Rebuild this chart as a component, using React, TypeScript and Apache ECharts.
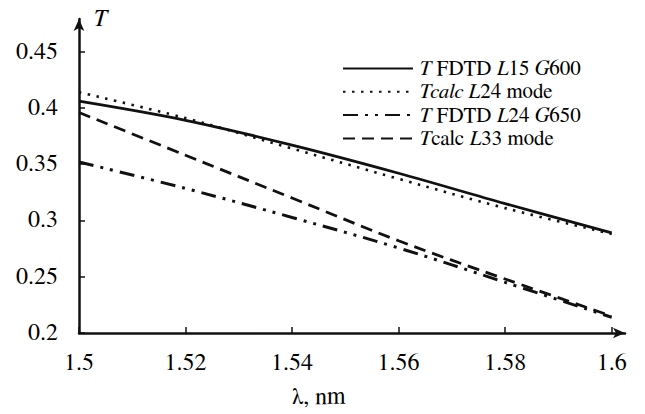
import React, { useEffect, useRef } from "react";
import * as echarts from "echarts";

// Wavelength samples (labelled in nm on the axis)
const wavelengths = [1.5, 1.52, 1.54, 1.56, 1.58, 1.6];

// Transmission curves
const fdtdL15G600 = [0.406, 0.389, 0.367, 0.342, 0.315, 0.289];
const calcL24 = [0.414, 0.391, 0.364, 0.337, 0.311, 0.288];
const fdtdL24G650 = [0.352, 0.3285, 0.3027, 0.2756, 0.245, 0.214];
const calcL33 = [0.396, 0.358, 0.32, 0.282, 0.248, 0.215];

// Axis extents: ticks every 0.02 / 0.05, the axes run a little past the last tick to the arrow
const xMin = 1.5;
const xMax = 1.6025;
const xStep = 0.02;
const yMin = 0.2;
const yMax = 0.4791;
const yStep = 0.05;

const seriesNames = ["fdtdL15", "calcL24", "fdtdL24", "calcL33"];
const legendLabels: Record<string, string> = {
  fdtdL15: "{i|T} FDTD {i|L}15 {i|G}600",
  calcL24: "{i|Tcalc L}24 mode",
  fdtdL24: "{i|T} FDTD {i|L}24 {i|G}650",
  calcL33: "{i|T}calc {i|L}33 mode",
};

const FONT = "FreeSerif, DejaVu Serif";
const INK = "#111";

function pairs(ys: number[]) {
  return wavelengths.map((x, i) => [x, ys[i]]);
}

export default function App() {
  const ref = useRef<HTMLDivElement>(null);

  useEffect(() => {
    if (!ref.current) return;
    const chart = echarts.init(ref.current, undefined, { renderer: "svg" });

    const line = (name: string, ys: number[], type: any, width: number) => ({
      name,
      type: "line",
      data: pairs(ys),
      symbol: "none",
      smooth: 0.35,
      lineStyle: { color: INK, width, type, cap: "butt" },
      itemStyle: { color: INK },
    });

    const labelStyle = {
      fontFamily: FONT,
      fontSize: 24,
      color: "#000",
    };

    chart.setOption({
      animation: false,
      backgroundColor: "#fff",
      textStyle: { fontFamily: FONT },
      grid: {
        left: 79,
        right: 20,
        top: 19,
        bottom: 81,
        containLabel: false,
        outerBoundsMode: "none",
      },
      legend: {
        orient: "vertical",
        left: 342,
        top: 58,
        padding: 0,
        itemWidth: 70,
        itemHeight: 14,
        itemGap: 2.3,
        align: "left",
        data: seriesNames,
        itemStyle: { opacity: 0, borderWidth: 0 },
        formatter: (name: string) => legendLabels[name],
        textStyle: {
          fontFamily: FONT,
          fontSize: 21,
          lineHeight: 21,
          color: "#000",
          padding: [0, 0, 0, 1],
          rich: {
            i: { fontFamily: FONT, fontSize: 21, lineHeight: 21, fontStyle: "italic", color: "#000" },
          },
        },
      },
      xAxis: {
        type: "value",
        min: xMin,
        max: xMax,
        interval: xStep,
        name: "λ, nm",
        nameLocation: "middle",
        nameGap: 52,
        nameTextStyle: { ...labelStyle, padding: [0, 66, 0, 0] },
        axisLine: {
          lineStyle: { color: INK, width: 2.5 },
          symbol: ["none", "arrow"],
          symbolSize: [8, 12],
        },
        axisTick: { inside: true, length: 6, lineStyle: { color: INK, width: 1.5 } },
        axisLabel: {
          ...labelStyle,
          margin: 18,
          showMaxLabel: false,
          formatter: (v: number) => String(+v.toFixed(2)),
        },
        splitLine: { show: false },
      },
      yAxis: {
        type: "value",
        min: yMin,
        max: yMax,
        interval: yStep,
        name: "T",
        nameLocation: "end",
        nameGap: 0,
        nameTextStyle: {
          fontFamily: FONT,
          fontSize: 24,
          fontStyle: "italic",
          color: "#000",
          align: "left",
          verticalAlign: "middle",
          padding: [0, 0, 0, 14],
        },
        axisLine: {
          lineStyle: { color: INK, width: 2.5 },
          symbol: ["none", "arrow"],
          symbolSize: [8, 12],
        },
        axisTick: { inside: true, length: 6, lineStyle: { color: INK, width: 1.5 } },
        axisLabel: {
          ...labelStyle,
          margin: 21,
          showMaxLabel: false,
          formatter: (v: number) => String(+v.toFixed(2)),
        },
        splitLine: { show: false },
      },
      series: [
        line("fdtdL15", fdtdL15G600, "solid", 2.8),
        line("calcL24", calcL24, [2.5, 6.5], 2.6),
        line("fdtdL24", fdtdL24G650, [15, 7, 3, 7, 3, 7], 3),
        line("calcL33", calcL33, [12, 7], 2.8),
      ],
    });

    return () => chart.dispose();
  }, []);

  return <div ref={ref} style={{ width: 645, height: 414, position: "absolute", left: 0, top: 0 }} />;
}
